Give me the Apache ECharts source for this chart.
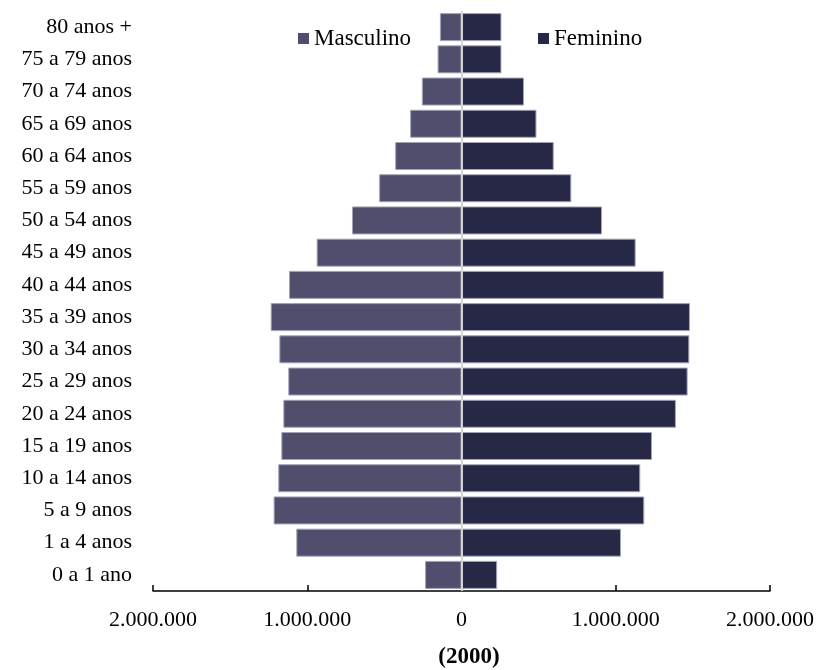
<!DOCTYPE html>
<html>
<head>
<meta charset="utf-8">
<script src="https://cdn.jsdelivr.net/npm/echarts@6/dist/echarts.min.js"></script>
<style>html,body{margin:0;padding:0;background:#fff}#c{width:819px;height:670px}</style>
</head>
<body>
<div id="c"></div>
<script>
const categories = ['0 a 1 ano','1 a 4 anos','5 a 9 anos','10 a 14 anos','15 a 19 anos','20 a 24 anos','25 a 29 anos','30 a 34 anos','35 a 39 anos','40 a 44 anos','45 a 49 anos','50 a 54 anos','55 a 59 anos','60 a 64 anos','65 a 69 anos','70 a 74 anos','75 a 79 anos','80 anos +'];
const masculino = [236000,1071000,1218000,1188000,1168000,1155000,1123000,1181000,1237000,1118000,939000,710000,534000,430000,333000,257000,155000,140000];
const feminino = [231000,1034000,1185000,1159000,1235000,1390000,1466000,1477000,1481000,1312000,1129000,911000,712000,598000,486000,405000,259000,259000];
const xTicks = [-2000000,-1000000,0,1000000,2000000];
const yearLabel = '(2000)';

const font = 'Liberation Serif';
function fmt(v){
  return String(Math.abs(v)).replace(/\B(?=(\d{3})+(?!\d))/g,'.');
}
const chart = echarts.init(document.getElementById('c'));
chart.setOption({
  animation:false,
  backgroundColor:'#ffffff',
  textStyle:{fontFamily:font,color:'#000'},
  title:{text:yearLabel,left:464,top:641,textAlign:'center',
    textStyle:{fontFamily:font,fontSize:23,fontWeight:'bold',color:'#000'}},
  legend:[
    {data:['Masculino'],icon:'rect',left:293,top:22,itemWidth:11,itemHeight:11,itemGap:0,
     itemStyle:{borderWidth:0},
     textStyle:{fontFamily:font,fontSize:23,color:'#000'}},
    {data:['Feminino'],icon:'rect',left:533,top:22,itemWidth:11,itemHeight:11,itemGap:0,
     itemStyle:{borderWidth:0},
     textStyle:{fontFamily:font,fontSize:23,color:'#000'}}
  ],
  grid:{left:153,right:49,top:11,bottom:79,containLabel:false},
  xAxis:{type:'value',min:xTicks[0],max:xTicks[xTicks.length-1],interval:1000000,
    axisLine:{show:true,lineStyle:{color:'#000',width:1.5}},
    axisTick:{show:true,inside:true,length:6,lineStyle:{color:'#000',width:1.5}},
    splitLine:{show:false},
    axisLabel:{formatter:fmt,fontFamily:font,fontSize:22,color:'#000',margin:18}},
  yAxis:{type:'category',data:categories,
    axisLine:{show:false},axisTick:{show:false},
    axisLabel:{fontFamily:font,fontSize:22,color:'#000',margin:21}},
  series:[
    {name:'Masculino',type:'bar',stack:'t',barWidth:28,z:2,
     data:masculino.map(v=>-v),
     itemStyle:{color:'#4f4f6d',borderColor:'#a3a3b8',borderWidth:1}},
    {name:'Feminino',type:'bar',stack:'t',barWidth:28,z:3,
     data:feminino,
     itemStyle:{color:'#272846',borderColor:'#a3a3b8',borderWidth:1},
     markLine:{silent:true,symbol:'none',label:{show:false},
       lineStyle:{color:'#d4d4d4',width:2,type:'solid'},
       data:[{xAxis:0}]}}
  ]
});
</script>
</body>
</html>
